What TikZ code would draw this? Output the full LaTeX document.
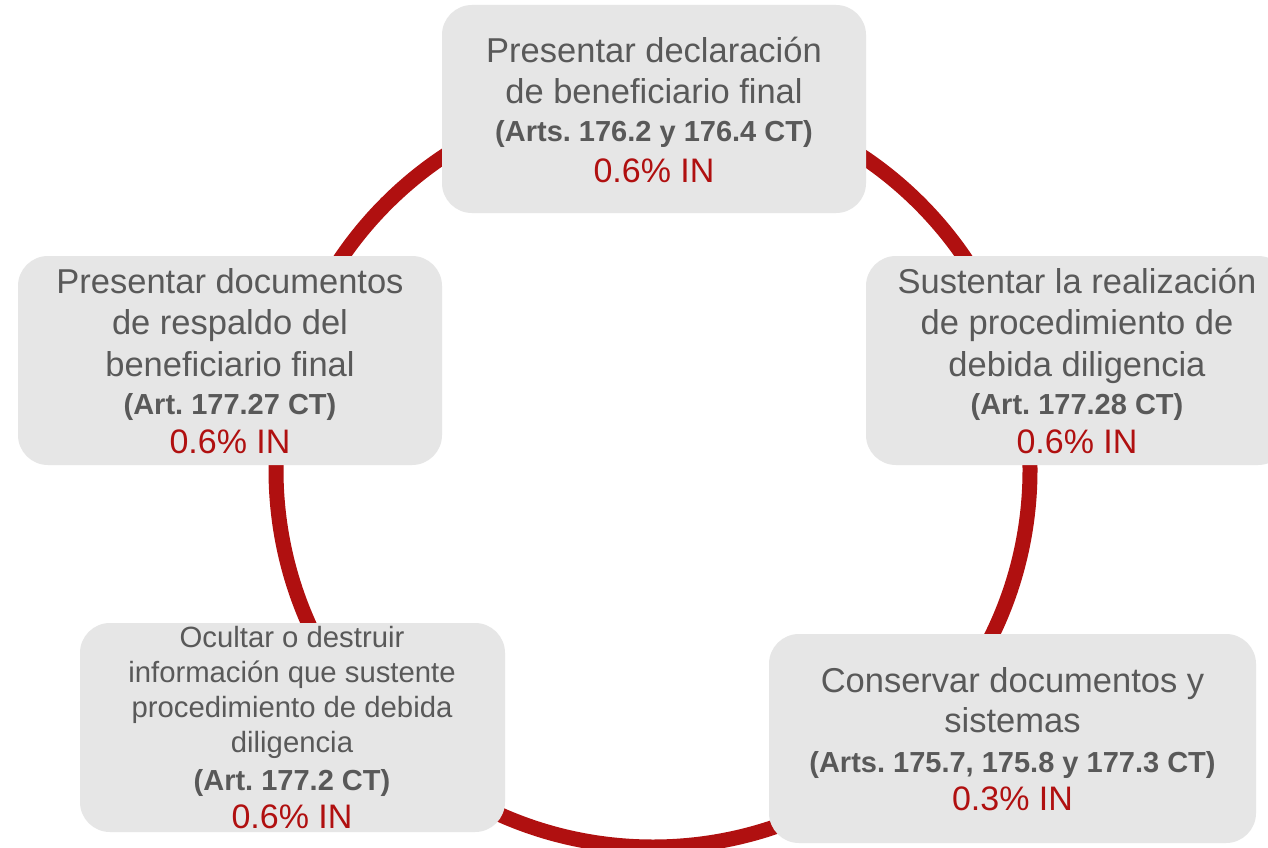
\documentclass[tikz,border=0pt]{standalone}
\usepackage{fontspec}
\setmainfont{Liberation Sans}
\frenchspacing
\definecolor{ringred}{RGB}{176,16,16}
\definecolor{boxgray}{RGB}{230,230,230}
\definecolor{txtgray}{RGB}{89,89,89}
\tikzset{
  box/.style={rectangle, rounded corners=30pt, fill=boxgray, inner sep=0pt, outer sep=0pt, minimum height=209pt},
  mainline/.style={anchor=base, inner sep=0pt, text=txtgray, font=\frenchspacing\fontsize{34.5}{41}\selectfont},
  smallline/.style={anchor=base, inner sep=0pt, text=txtgray, font=\frenchspacing\fontsize{29.3}{35}\selectfont},
  boldline/.style={anchor=base, inner sep=0pt, text=txtgray, font=\frenchspacing\fontsize{29}{35}\selectfont\bfseries},
  redline/.style={anchor=base, inner sep=0pt, text=ringred, font=\frenchspacing\fontsize{34}{41}\selectfont},
  ring/.style={draw=ringred, line width=15pt}
}
\begin{document}
\begin{tikzpicture}[x=1pt,y=-1pt]
\clip (0,0) rectangle (1268,848);
\fill[white] (0,0) rectangle (1268,848);
% ring
\node[circle, ring, minimum size=754pt, inner sep=0pt] (ring) at (653,470) {};
% boxes
\node[box, minimum width=424pt, minimum height=208pt] (b1) at (654,109) {};
\node[box, minimum width=424pt] (b2) at (230,360.5) {};
\node[box, minimum width=422pt] (b3) at (1077,360.5) {};
\node[box, minimum width=425pt] (b4) at (292.5,727.5) {};
\node[box, minimum width=487pt] (b5) at (1012.5,738.5) {};
% top box text
\node[mainline] (t1a) at (654,63) {Presentar declaración};
\node[mainline] (t1b) at (654,103) {de beneficiario final};
\node[boldline] (t1c) at (654,142) {(Arts. 176.2 y 176.4 CT)};
\node[redline] (t1d) at (654,182) {0.6\% IN};
% left box text
\node[mainline] (t2a) at (230,293) {Presentar documentos};
\node[mainline] (t2b) at (230,334) {de respaldo del};
\node[mainline] (t2c) at (230,376) {beneficiario final};
\node[boldline] (t2d) at (230,414) {(Art. 177.27 CT)};
\node[redline] (t2e) at (230,453) {0.6\% IN};
% right box text
\node[mainline] (t3a) at (1077,293) {Sustentar la realización};
\node[mainline] (t3b) at (1077,334) {de procedimiento de};
\node[mainline] (t3c) at (1077,376) {debida diligencia};
\node[boldline] (t3d) at (1077,414) {(Art. 177.28 CT)};
\node[redline] (t3e) at (1077,453) {0.6\% IN};
% bottom-left box text
\node[smallline] (t4a) at (292,647) {Ocultar o destruir};
\node[smallline] (t4b) at (292,682) {información que sustente};
\node[smallline] (t4c) at (292,717) {procedimiento de debida};
\node[smallline] (t4d) at (292,752) {diligencia};
\node[boldline] (t4e) at (292,790) {(Art. 177.2 CT)};
\node[redline] (t4f) at (292,828) {0.6\% IN};
% bottom-right box text
\node[mainline] (t5a) at (1012.5,692) {Conservar documentos y};
\node[mainline] (t5b) at (1012.5,732) {sistemas};
\node[boldline] (t5c) at (1012.5,772) {(Arts. 175.7, 175.8 y 177.3 CT)};
\node[redline] (t5d) at (1012.5,810) {0.3\% IN};
\end{tikzpicture}
\end{document}
